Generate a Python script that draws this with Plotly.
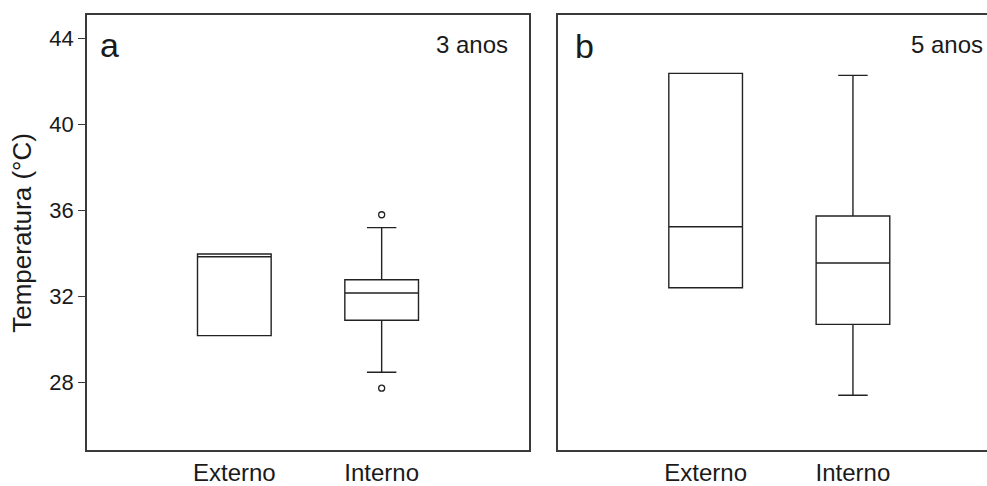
import plotly.graph_objects as go

# ---- data ----
categories = ["Externo", "Interno"]

# Panel a (3 anos)
a_q1 = [30.19, 30.90]
a_median = [33.85, 32.17]
a_q3 = [33.98, 32.78]
a_lower = [30.19, 28.49]
a_upper = [33.98, 35.20]
a_outlier_cat = ["Interno", "Interno"]
a_outlier_val = [35.80, 27.75]

# Panel b (5 anos)
b_q1 = [32.41, 30.71]
b_median = [35.24, 33.56]
b_q3 = [42.36, 35.74]
b_lower = [32.41, 27.42]
b_upper = [42.36, 42.27]

y_ticks = [28, 32, 36, 40, 44]

FONT = "Liberation Sans, Arial, sans-serif"
LINE = "#222222"
AXIS = "#3a3a3a"

fig = go.Figure()

box_style = dict(width=0.5, whiskerwidth=0.4, fillcolor="rgba(255,255,255,0)",
                 line=dict(color=LINE, width=1.4), boxpoints=False,
                 showlegend=False)

fig.add_trace(go.Box(x=categories, q1=a_q1, median=a_median, q3=a_q3,
                     lowerfence=a_lower, upperfence=a_upper,
                     xaxis="x", yaxis="y", **box_style))
fig.add_trace(go.Scatter(x=a_outlier_cat, y=a_outlier_val, mode="markers",
                         marker=dict(symbol="circle-open", size=6,
                                     color=LINE, line=dict(width=1.3)),
                         xaxis="x", yaxis="y", showlegend=False))
fig.add_trace(go.Box(x=categories, q1=b_q1, median=b_median, q3=b_q3,
                     lowerfence=b_lower, upperfence=b_upper,
                     xaxis="x2", yaxis="y2", **box_style))

yrange = [24.88, 45.07]

fig.update_layout(
    width=987, height=486,
    margin=dict(l=87, r=0, t=15, b=36),
    paper_bgcolor="white", plot_bgcolor="white",
    font=dict(family=FONT, color="#1a1a1a"),
    xaxis=dict(domain=[0, 0.4911], type="category", categoryarray=categories,
               range=[-1, 2], showline=True, linecolor=AXIS, linewidth=1.5,
               mirror=True, showgrid=False, zeroline=False, automargin=False,
               ticks="",
               tickfont=dict(size=24, family=FONT, color="#1a1a1a")),
    yaxis=dict(domain=[0, 1], range=yrange, tickvals=y_ticks,
               showline=True, linecolor=AXIS, linewidth=1.5, mirror=True,
               showgrid=False, zeroline=False, ticks="outside", ticklen=7,
               tickcolor=AXIS, tickwidth=1.2, automargin=False,
               tickfont=dict(size=22, family=FONT, color="#1a1a1a")),
    xaxis2=dict(domain=[0.5237, 1.0], anchor="y2", type="category",
                categoryarray=categories, range=[-1, 1.91],
                showline=True, linecolor=AXIS, linewidth=1.5, mirror=True,
                showgrid=False, zeroline=False, automargin=False,
                ticks="",
                tickfont=dict(size=24, family=FONT, color="#1a1a1a")),
    yaxis2=dict(domain=[0, 1], anchor="x2", range=yrange, tickvals=y_ticks,
                showline=True, linecolor=AXIS, linewidth=1.5, mirror=False,
                showgrid=False, zeroline=False, showticklabels=False, ticks="",
                automargin=False),
)

annos = [
    dict(text="a", xref="x domain", yref="y domain", x=0.025, y=0.98,
         xanchor="left", yanchor="top", font=dict(size=34, family=FONT)),
    dict(text="3 anos", xref="x domain", yref="y domain", x=0.957, y=0.967,
         xanchor="right", yanchor="top", font=dict(size=24, family=FONT)),
    dict(text="b", xref="x2 domain", yref="y2 domain", x=0.035, y=0.977,
         xanchor="left", yanchor="top", font=dict(size=34, family=FONT)),
    dict(text="5 anos", xref="x2 domain", yref="y2 domain", x=0.818, y=0.967,
         xanchor="left", yanchor="top", font=dict(size=24, family=FONT)),
    dict(text="Temperatura (°C)", xref="paper", yref="paper", x=-0.073, y=0.5,
         xanchor="center", yanchor="middle", textangle=-90,
         font=dict(size=26, family=FONT)),
]
for a in annos:
    a.update(showarrow=False, font=dict(color="#1a1a1a", **a["font"]))
fig.update_layout(annotations=annos)

fig.write_html("out.html",
               config={"displayModeBar": False},
               post_script="document.body.style.margin='0';"
                           "document.body.style.overflow='hidden';")
